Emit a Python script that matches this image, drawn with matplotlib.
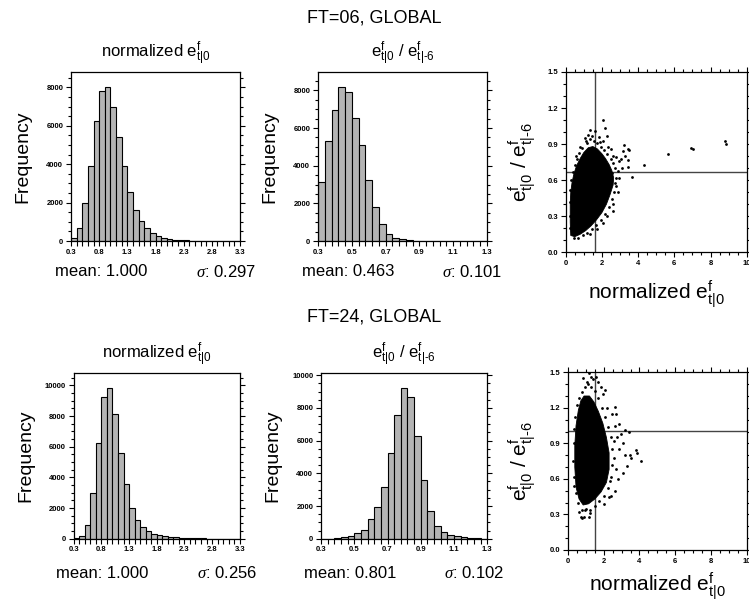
import numpy as np
import matplotlib.pyplot as plt
from matplotlib.ticker import MultipleLocator, FormatStrFormatter

plt.rcParams['font.family'] = 'Liberation Sans'
plt.rcParams['mathtext.fontset'] = 'custom'
plt.rcParams['mathtext.rm'] = 'Liberation Sans'
plt.rcParams['mathtext.it'] = 'Liberation Serif:italic'

W, H = 749, 605

# ---- histogram data (bin start, bin width, counts) ----
ft06_norm_start, ft06_norm_width = 0.3, 0.1
ft06_norm_counts = [140, 700, 1960, 3910, 6240, 7790, 8000, 6960, 5390, 3880,
                    2540, 1620, 1060, 700, 400, 240, 170, 120, 70, 50,
                    30, 20, 15, 10, 6, 4, 3, 2, 1, 1]
ft06_norm_stats = (1.000, 0.297)

ft06_ratio_start, ft06_ratio_width = 0.2955, 0.04
ft06_ratio_counts = [3110, 5310, 6940, 8160, 7890, 6530, 5080, 3230, 1790, 890,
                     355, 143, 85, 30, 12, 5, 3, 2, 1, 1, 0, 0, 0, 0, 0]
ft06_ratio_stats = (0.463, 0.101)

ft24_norm_start, ft24_norm_width = 0.3, 0.1
ft24_norm_counts = [20, 150, 870, 3000, 6250, 9260, 9850, 8110, 5570, 3560,
                    2020, 1190, 760, 480, 330, 240, 170, 120, 90, 60,
                    40, 30, 20, 15, 10, 8, 5, 3, 2, 1]
ft24_norm_stats = (1.000, 0.256)

ft24_ratio_start, ft24_ratio_width = 0.3, 0.04
ft24_ratio_counts = [0, 10, 60, 100, 160, 320, 560, 1180, 1960, 3180,
                     5230, 7560, 9230, 8680, 6270, 3560, 1700, 800, 420, 240,
                     140, 80, 40, 20, 10]
ft24_ratio_stats = (0.801, 0.102)

# ---- scatter data: outline of the dense cloud + loose points ----
ft06_cloud_x = [0.28, 0.25, 0.25, 0.28, 0.35, 0.45, 0.60, 0.80, 1.00, 1.25, 1.50, 1.75, 2.00,
                2.20, 2.40, 2.55, 2.65, 2.62, 2.45, 2.25, 2.00, 1.70, 1.40, 1.10, 0.80, 0.50]
ft06_cloud_y = [0.14, 0.25, 0.40, 0.50, 0.58, 0.65, 0.72, 0.78, 0.83, 0.87, 0.88, 0.86, 0.82,
                0.78, 0.73, 0.68, 0.62, 0.56, 0.48, 0.40, 0.33, 0.27, 0.22, 0.18, 0.15, 0.13]
ft06_pts_x = [2.04, 2.17, 1.36, 1.64, 2.27, 1.10, 1.90, 3.22, 3.46, 3.52, 5.67, 3.46, 4.33, 3.46,
              3.68, 2.63, 2.78, 3.04, 6.92, 7.01, 8.80, 8.86,
              0.22, 0.21, 0.22, 0.24, 0.30, 0.38, 0.50, 0.62, 0.75, 0.92, 1.15, 1.35, 1.55, 1.75,
              1.95, 2.12, 2.30, 2.48, 2.62, 2.72, 2.80, 2.78, 2.68, 2.55, 2.38, 2.18, 1.95, 1.70,
              1.45, 1.20, 0.95, 0.70, 0.45,
              0.55, 0.80, 1.05, 1.25, 2.05, 2.35, 2.62, 2.95, 3.10, 2.95, 2.88, 2.60, 2.30, 2.05,
              1.75, 1.35, 3.30, 3.15, 1.45, 1.85, 2.50, 2.70, 2.55, 2.90]
ft06_pts_y = [1.10, 1.03, 1.02, 1.01, 0.97, 0.93, 0.92, 0.89, 0.86, 0.85, 0.82, 0.77, 0.73, 0.71,
              0.63, 0.34, 0.79, 0.78, 0.87, 0.86, 0.93, 0.90,
              0.20, 0.30, 0.42, 0.52, 0.60, 0.67, 0.73, 0.78, 0.83, 0.87, 0.91, 0.94, 0.93, 0.91,
              0.88, 0.85, 0.82, 0.78, 0.74, 0.70, 0.62, 0.55, 0.50, 0.44, 0.38, 0.32, 0.27, 0.23,
              0.19, 0.16, 0.14, 0.12, 0.12,
              0.80, 0.88, 0.95, 0.98, 0.93, 0.88, 0.80, 0.76, 0.70, 0.62, 0.50, 0.40, 0.30, 0.24,
              0.19, 0.15, 0.80, 0.84, 0.97, 0.96, 0.86, 0.58, 0.66, 0.68]

ft24_cloud_x = [0.90, 1.20, 1.45, 1.70, 1.95, 2.15, 2.30, 2.30, 2.15, 1.85, 1.50, 1.15, 0.85,
                0.62, 0.45, 0.38, 0.38, 0.45, 0.58, 0.72]
ft24_cloud_y = [1.30, 1.30, 1.25, 1.17, 1.07, 0.95, 0.82, 0.68, 0.57, 0.49, 0.43, 0.39, 0.38,
                0.43, 0.53, 0.70, 0.88, 1.05, 1.18, 1.26]
ft24_pts_x = [1.15, 1.28, 1.57, 1.69, 1.06, 2.06, 1.95, 2.61, 2.70, 2.88, 3.21, 3.39, 3.79, 3.85,
              4.07, 3.46, 3.30, 3.06, 2.43, 2.02, 0.73, 0.78, 1.24, 1.15, 0.97,
              0.32, 0.30, 0.31, 0.34, 0.40, 0.50, 0.62, 0.78, 0.95, 1.12, 1.30, 1.50, 1.68, 1.90,
              2.08, 2.25, 2.40, 2.48, 2.45, 2.40, 2.22, 2.00, 1.75, 1.50, 1.25, 1.00, 0.78, 0.58,
              0.45, 0.36,
              2.65, 2.75, 2.85, 2.70, 2.80, 2.62, 2.30, 3.10, 3.20, 3.55, 2.45, 2.20, 1.85, 0.85,
              0.60, 0.88, 2.55, 2.60, 2.35, 1.40, 2.95]
ft24_pts_y = [1.49, 1.46, 1.46, 1.42, 1.42, 1.35, 1.32, 1.21, 1.15, 1.06, 1.01, 1.00, 0.84, 0.82,
              0.75, 0.80, 0.71, 0.65, 0.46, 0.39, 0.28, 0.27, 0.31, 0.28, 0.34,
              0.62, 0.75, 0.90, 1.02, 1.12, 1.22, 1.28, 1.33, 1.38, 1.40, 1.38, 1.34, 1.28, 1.20,
              1.12, 1.04, 0.95, 0.85, 0.72, 0.62, 0.52, 0.46, 0.41, 0.37, 0.34, 0.35, 0.34, 0.40,
              0.48, 0.54,
              1.05, 0.95, 0.85, 0.68, 0.60, 0.50, 0.45, 0.90, 0.80, 0.78, 1.15, 1.20, 1.38, 1.45,
              0.32, 0.28, 0.92, 0.78, 0.58, 1.44, 0.98]

norm_lbl = r'normalized $\mathregular{e^f_{t|0}}$'
ratio_lbl = r'$\mathregular{e^f_{t|0}}$ / $\mathregular{e^f_{t|‐6}}$'

fig = plt.figure(figsize=(W / 100, H / 100), dpi=100)


def rect(l, t, r, b):
    return [l / W, 1 - b / H, (r - l) / W, (b - t) / H]


def bold_ticks(ax):
    for lab in ax.get_xticklabels() + ax.get_yticklabels():
        lab.set_fontweight('bold')


def hist_panel(box, start, width, counts, stats, title, text_y):
    ax = fig.add_axes(rect(*box))
    n = len(counts)
    edges = start + width * np.arange(n + 1)
    ax.bar(edges[:-1], counts, width=width, align='edge', color='#b4b4b4',
           edgecolor='black', linewidth=0.8)
    ax.set_xlim(edges[0], edges[-1])
    ax.set_ylim(0, 1.1 * max(counts))
    ax.set_xticks(edges)
    ax.set_xticklabels(['%.1f' % e if i % 5 == 0 else '' for i, e in enumerate(edges)])
    ax.yaxis.set_major_locator(MultipleLocator(2000))
    ax.yaxis.set_minor_locator(MultipleLocator(500))
    ax.tick_params(which='both', direction='out', right=True, top=False,
                   labelsize=5.5, width=0.8, pad=2)
    ax.tick_params(which='major', length=3.5)
    ax.tick_params(which='minor', length=2)
    for s in ax.spines.values():
        s.set_linewidth(0.9)
    bold_ticks(ax)
    cx = (box[0] + box[2]) / 2
    fig.text(cx / W, 1 - (box[1] - 18) / H, title, ha='center', va='center', fontsize=12)
    fig.text((box[0] - 48) / W, 1 - (box[1] + box[3]) / 2 / H, 'Frequency',
             rotation=90, ha='center', va='center', fontsize=14)
    fig.text((cx - 8) / W, 1 - text_y / H, 'mean: %.3f' % stats[0],
             ha='right', va='center', fontsize=12)
    fig.text((cx + 40) / W, 1 - text_y / H, r'$\sigma$: %.3f' % stats[1],
             ha='left', va='center', fontsize=12)
    return ax


def scatter_panel(box, cx_, cy_, px, py, sx, sy, xlab_y):
    ax = fig.add_axes(rect(*box))
    ax.axvline(sx[0] + 2 * sx[1], color='#444444', lw=1, zorder=1)
    ax.axhline(sy[0] + 2 * sy[1], color='#444444', lw=1, zorder=1)
    ax.fill(cx_, cy_, color='black', lw=0.6, zorder=2)
    ax.scatter(px, py, s=4, c='black', linewidths=0, zorder=3)
    ax.set_xlim(0, 10)
    ax.set_ylim(0, 1.5)
    ax.xaxis.set_major_locator(MultipleLocator(2))
    ax.xaxis.set_minor_locator(MultipleLocator(0.5))
    ax.yaxis.set_major_locator(MultipleLocator(0.3))
    ax.yaxis.set_minor_locator(MultipleLocator(0.1))
    ax.yaxis.set_major_formatter(FormatStrFormatter('%.1f'))
    ax.tick_params(which='both', direction='out', right=True, top=True,
                   labelsize=5.5, width=0.8, pad=2)
    ax.tick_params(which='major', length=3.5)
    ax.tick_params(which='minor', length=2)
    for s in ax.spines.values():
        s.set_linewidth(0.9)
    bold_ticks(ax)
    cx = (box[0] + box[2]) / 2
    fig.text(cx / W, 1 - xlab_y / H, norm_lbl, ha='center', va='center', fontsize=15)
    fig.text(522 / W, 1 - (box[1] + box[3]) / 2 / H, ratio_lbl, rotation=90,
             ha='center', va='center', fontsize=15)
    return ax


fig.text(374 / W, 1 - 18 / H, 'FT=06, GLOBAL', ha='center', va='center', fontsize=13)
fig.text(374 / W, 1 - 317 / H, 'FT=24, GLOBAL', ha='center', va='center', fontsize=13)

hist_panel((71, 72, 240, 241), ft06_norm_start, ft06_norm_width, ft06_norm_counts,
           ft06_norm_stats, norm_lbl, 272)
hist_panel((318, 72, 487, 241), ft06_ratio_start, ft06_ratio_width, ft06_ratio_counts,
           ft06_ratio_stats, ratio_lbl, 272)
scatter_panel((565.7, 72, 746.7, 252.3), ft06_cloud_x, ft06_cloud_y, ft06_pts_x, ft06_pts_y,
              ft06_norm_stats, ft06_ratio_stats, 294)

hist_panel((73.7, 372.7, 239.7, 538.7), ft24_norm_start, ft24_norm_width, ft24_norm_counts,
           ft24_norm_stats, norm_lbl, 573)
hist_panel((321, 372.7, 487.3, 538.7), ft24_ratio_start, ft24_ratio_width, ft24_ratio_counts,
           ft24_ratio_stats, ratio_lbl, 573)
scatter_panel((568, 372.3, 746.7, 550), ft24_cloud_x, ft24_cloud_y, ft24_pts_x, ft24_pts_y,
              ft24_norm_stats, ft24_ratio_stats, 586)

fig.savefig('out.png', dpi=100)
